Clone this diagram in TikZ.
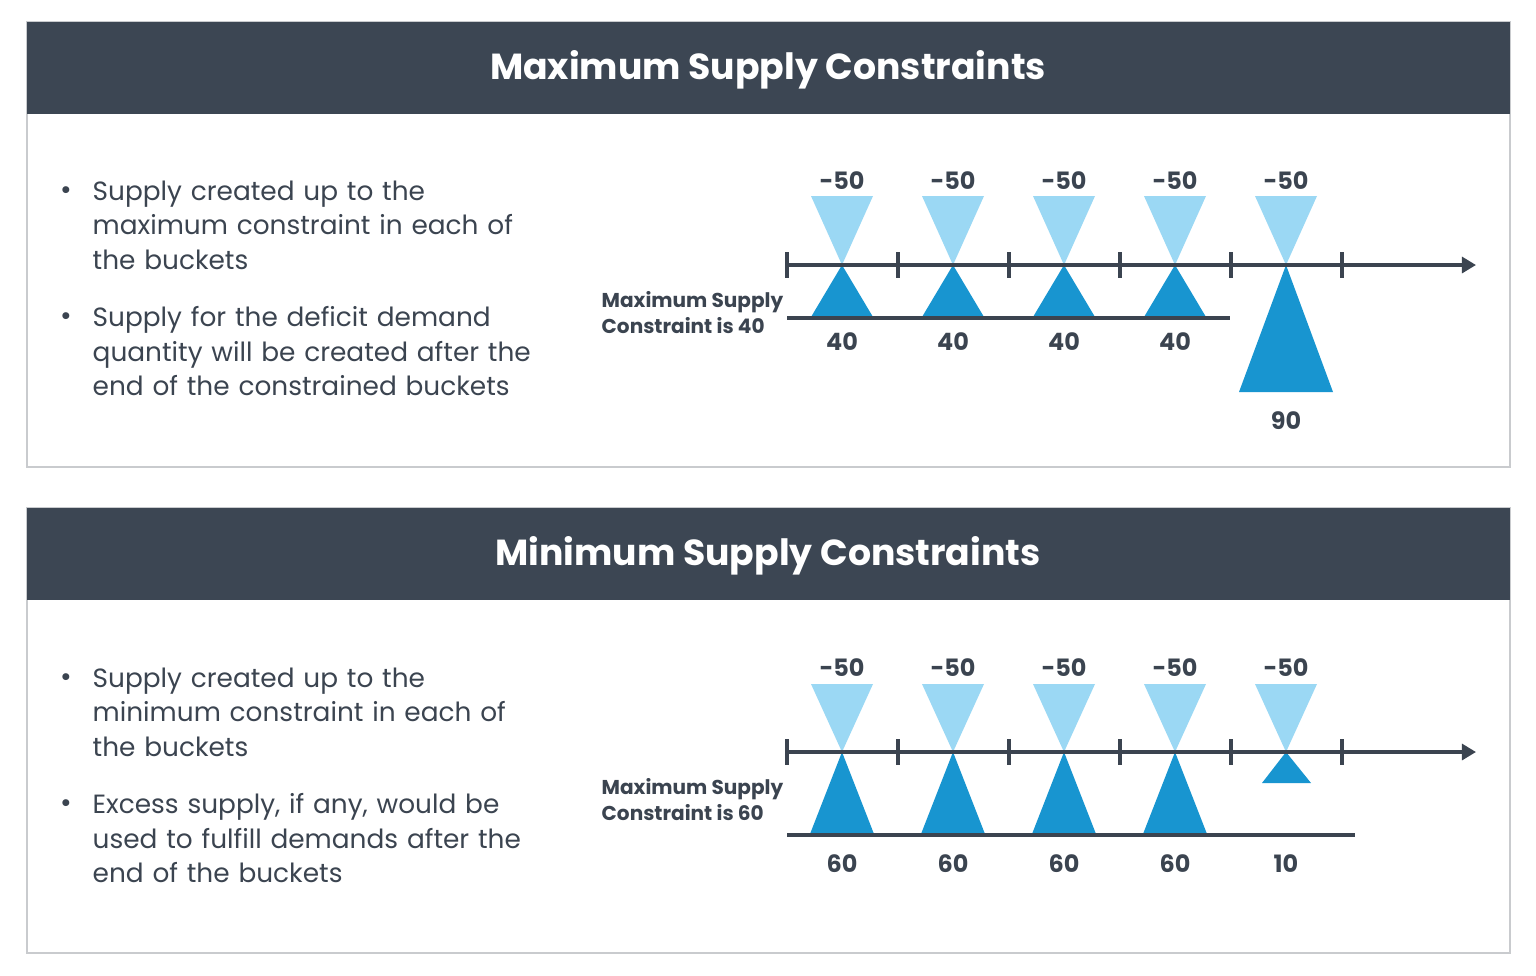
\documentclass[tikz,border=0pt]{standalone}
\usepackage{fontspec}
\setmainfont{Poppins}
\usetikzlibrary{arrows.meta}
\definecolor{headgrey}{HTML}{3C4653}
\definecolor{inkgrey}{HTML}{3B4450}
\definecolor{framegrey}{HTML}{C9CBCE}
\definecolor{demandblue}{HTML}{9BD8F4}
\definecolor{supplyblue}{HTML}{1895D0}

\begin{document}
\begin{tikzpicture}[x=0.01cm, y=-0.01cm,
    panel/.style={draw=framegrey, line width=0.6pt, fill=white},
    header/.style={fill=headgrey},
    title/.style={text=white, inner sep=0pt, font=\fontsize{10.3}{12}\selectfont\bfseries},
    dot/.style={text=inkgrey, inner sep=0pt, font=\fontsize{8}{9.8}\selectfont},
    bullets/.style={anchor=north west, inner sep=0pt, text=inkgrey, align=left, text width=4.8cm, font=\fontsize{7.5}{9.8}\selectfont},
    axis/.style={draw=inkgrey, line width=1.1pt, -{Triangle[length=4pt,width=4.5pt]}},
    tick/.style={draw=inkgrey, line width=1.1pt},
    demand/.style={fill=demandblue},
    supply/.style={fill=supplyblue},
    num/.style={text=inkgrey, inner sep=0pt, font=\fontsize{6.8}{8}\selectfont\bfseries},
    caplabel/.style={anchor=west, text=inkgrey, align=left, inner sep=0pt, font=\fontsize{5.7}{7.4}\selectfont\bfseries}
]
\useasboundingbox (0,0) rectangle (1536,975);

% maximum supply panel
\draw[panel] (27,22) rectangle (1510,467);
\fill[header] (27,22) rectangle (1510,114);
\node[title] (maxtitle) at (768,70) {Maximum Supply Constraints};
\node[dot] (maxdotA) at (66,193) {•};
\node[bullets] (maxtextA) at (92,180) {Supply created up to the\\maximum constraint in each of\\the buckets};
\node[dot] (maxdotB) at (66,319) {•};
\node[bullets] (maxtextB) at (92,306) {Supply for the deficit demand\\quantity will be created after the\\end of the constrained buckets};
\node[caplabel] (maxcap) at (601,313) {Maximum Supply\\Constraint is 40};

\foreach \i in {0,...,4} {
  \fill[demand] (811+111*\i,196) -- (873+111*\i,196) -- (842+111*\i,265) -- cycle;
  \node[num] (maxdem\i) at (842+111*\i,181) {-50};
}
\foreach \i in {0,...,3} {
  \fill[supply] (842+111*\i,265) -- (873+111*\i,317) -- (811+111*\i,317) -- cycle;
  \node[num] (maxsup\i) at (842+111*\i,342) {40};
}
\fill[supply] (1286,265) -- (1333,392) -- (1239,392) -- cycle;
\node[num] (maxsup4) at (1286,421) {90};

\coordinate (maxstart) at (787,265);
\coordinate (maxend) at (1476,265);
\draw[axis] (maxstart) -- (maxend);
\foreach \t in {0,...,5} \draw[tick] (787+111*\t,252) -- ++(0,26);
\coordinate (maxlimA) at (787,318);
\coordinate (maxlimB) at (1230,318);
\draw[tick] (maxlimA) -- (maxlimB);

% minimum supply panel
\draw[panel] (27,508) rectangle (1510,953);
\fill[header] (27,508) rectangle (1510,600);
\node[title] (mintitle) at (768,556) {Minimum Supply Constraints};
\node[dot] (mindotA) at (66,680) {•};
\node[bullets] (mintextA) at (92,667) {Supply created up to the\\minimum constraint in each of\\the buckets};
\node[dot] (mindotB) at (66,806) {•};
\node[bullets] (mintextB) at (92,793) {Excess supply, if any, would be\\used to fulfill demands after the\\end of the buckets};
\node[caplabel] (mincap) at (601,800) {Maximum Supply\\Constraint is 60};

\foreach \i in {0,...,4} {
  \fill[demand] (811+111*\i,684) -- (873+111*\i,684) -- (842+111*\i,752) -- cycle;
  \node[num] (mindem\i) at (842+111*\i,668) {-50};
}
\foreach \i in {0,...,3} {
  \fill[supply] (842+111*\i,752) -- (874+111*\i,834) -- (810+111*\i,834) -- cycle;
  \node[num] (minsup\i) at (842+111*\i,864) {60};
}
\fill[supply] (1286,752) -- (1311,783) -- (1262,783) -- cycle;
\node[num] (minsup4) at (1286,864) {10};

\coordinate (minstart) at (787,752);
\coordinate (minend) at (1476,752);
\draw[axis] (minstart) -- (minend);
\foreach \t in {0,...,5} \draw[tick] (787+111*\t,739) -- ++(0,26);
\coordinate (minlimA) at (787,835);
\coordinate (minlimB) at (1355,835);
\draw[tick] (minlimA) -- (minlimB);
\end{tikzpicture}
\end{document}
